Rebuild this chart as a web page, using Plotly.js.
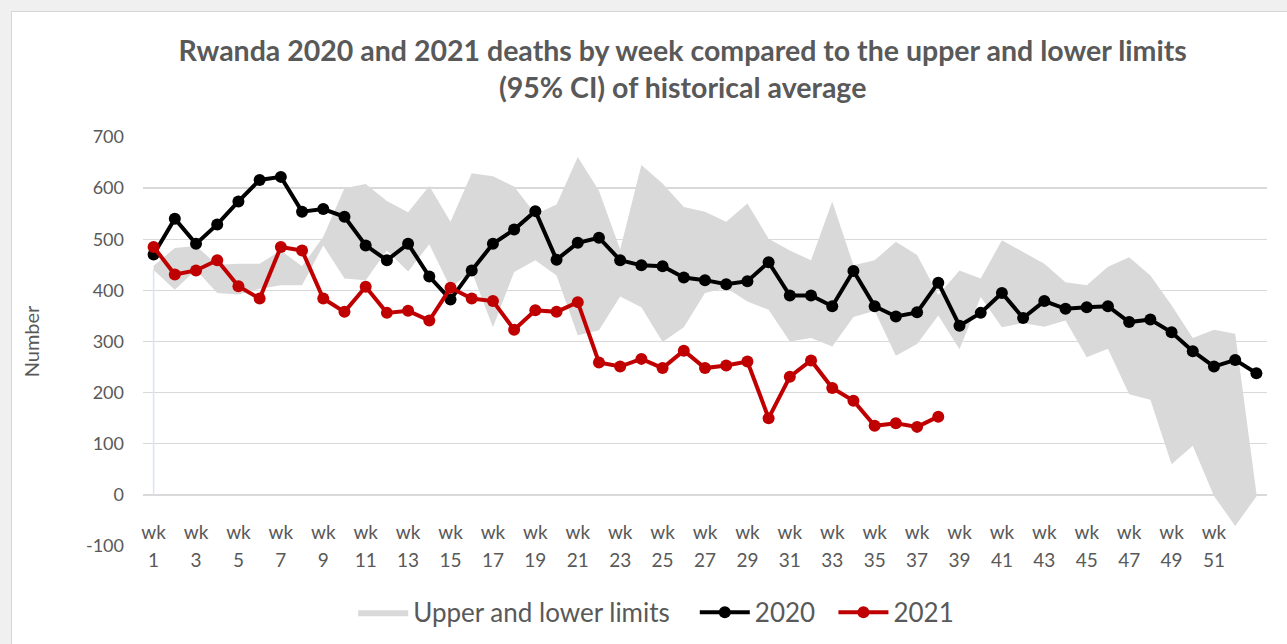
<!DOCTYPE html>
<html><head><meta charset="utf-8">
<script src="https://cdn.plot.ly/plotly-3.0.1.min.js"></script>
<style>
html,body{margin:0;padding:0;background:#f0f0f0;width:1287px;height:644px;overflow:hidden;}
#card{position:absolute;left:11px;top:11px;width:1276px;height:633px;background:#fff;border-left:1px solid #d6d6d6;border-top:1px solid #d6d6d6;overflow:hidden;}
#chart{position:absolute;left:0;top:0;width:1275px;height:645px;}
</style></head><body><div id="card"><div id="chart"></div></div>
<script>
// ---- data ----
var weeks = [1,2,3,4,5,6,7,8,9,10,11,12,13,14,15,16,17,18,19,20,21,22,23,24,25,26,27,28,29,30,31,32,33,34,35,36,37,38,39,40,41,42,43,44,45,46,47,48,49,50,51,52,53];
var tickWeeks = [1,3,5,7,9,11,13,15,17,19,21,23,25,27,29,31,33,35,37,39,41,43,45,47,49,51];
var tickWk = ['wk','wk','wk','wk','wk','wk','wk','wk','wk','wk','wk','wk','wk','wk','wk','wk','wk','wk','wk','wk','wk','wk','wk','wk','wk','wk'];
var tickNum = ['1','3','5','7','9','11','13','15','17','19','21','23','25','27','29','31','33','35','37','39','41','43','45','47','49','51'];
var yTickVals = [-100,0,100,200,300,400,500,600,700];
var yTickText = ['-100','0','100','200','300','400','500','600','700'];
var upperLimit = [448,483,487,450,452,452,478,447,505,600,608,575,553,604,534,629,623,603,549,568,661,595,480,645,609,563,554,534,570,501,478,459,574,449,459,495,469,391,439,423,498,475,452,416,410,446,465,429,371,307,323,315,3];
var lowerLimit = [440,401,440,395,392,403,410,410,488,423,420,478,437,490,405,437,328,436,459,429,312,322,388,367,299,328,395,405,378,362,300,307,290,348,360,272,295,351,285,387,328,336,329,341,269,286,197,186,60,96,-2,-61,-3];
var deaths2020 = [470,540,491,529,574,616,622,554,559,544,488,459,491,427,382,439,491,519,555,460,493,503,459,449,447,425,420,412,418,455,390,390,369,438,369,349,357,415,331,356,395,346,379,364,367,369,338,343,318,281,251,264,238];
var deaths2021 = [485,431,439,459,408,384,485,478,384,358,407,356,360,341,405,384,379,323,361,358,377,259,251,266,248,282,248,253,261,150,231,263,209,184,135,140,133,153];
var titleText = 'Rwanda 2020 and 2021 deaths by week compared to the upper and lower limits<br>(95% CI) of historical average';
var seriesNames = ['Upper and lower limits\u00a0\u00a0\u00a0', '2020\u00a0\u00a0', '2021'];

var FONT = 'Lato, "Open Sans", sans-serif';
var GREY_TXT = '#595959';

var traces = [
  {x: weeks, y: lowerLimit, type:'scatter', mode:'lines', line:{width:0, color:'rgba(0,0,0,0)'}, showlegend:false, hoverinfo:'skip'},
  {x: weeks, y: upperLimit, type:'scatter', mode:'lines', fill:'tonexty', fillcolor:'#d9d9d9', line:{width:0, color:'#d9d9d9'}, name:seriesNames[0]},
  {x: [weeks[0], weeks[0]], y: [0, lowerLimit[0]], type:'scatter', mode:'lines', line:{width:1.5, color:'#dae3f3'}, showlegend:false, hoverinfo:'skip'},
  {x: weeks, y: deaths2020, type:'scatter', mode:'lines+markers', name:seriesNames[1], line:{color:'#000000', width:4}, marker:{color:'#000000', size:12}},
  {x: weeks.slice(0, deaths2021.length), y: deaths2021, type:'scatter', mode:'lines+markers', name:seriesNames[2], line:{color:'#c00000', width:4}, marker:{color:'#c00000', size:12}},
  {x: [], y: [], xaxis:'x2', yaxis:'y', showlegend:false, hoverinfo:'skip'}
];

var layout = {
  width: 1275, height: 645,
  paper_bgcolor:'#ffffff', plot_bgcolor:'#ffffff',
  margin:{l:131, r:20, t:125, b:111},
  font:{family:FONT, color:GREY_TXT},
  title:{text:titleText, font:{family:FONT, size:28.5, color:GREY_TXT, weight:'bold'}, xref:'container', x:0.526, xanchor:'center', yref:'container', y:0.9236, yanchor:'top'},
  showlegend:true,
  legend:{orientation:'h', x:0.187, xanchor:'left', y:-0.105, yanchor:'top', font:{family:FONT, size:26, color:GREY_TXT}, bgcolor:'rgba(0,0,0,0)', itemwidth:50, traceorder:'normal'},
  xaxis:{type:'linear', range:[0.5, 53.5], tickmode:'array', tickvals:tickWeeks, ticktext:tickWk, showgrid:false, zeroline:false, showline:false, ticks:'', tickfont:{family:FONT, size:19, color:GREY_TXT}, ticklabelstandoff:-27, fixedrange:true},
  xaxis2:{type:'linear', overlaying:'x', anchor:'y', side:'bottom', range:[0.5, 53.5], tickmode:'array', tickvals:tickWeeks, ticktext:tickNum, showgrid:false, zeroline:false, showline:false, ticks:'', tickfont:{family:FONT, size:19, color:GREY_TXT}, ticklabelstandoff:1},
  yaxis:{range:[-100, 700], tickmode:'array', tickvals:yTickVals, ticktext:yTickText, gridcolor:'#d9d9d9', gridwidth:1.4, zeroline:false, showline:false, ticks:'', tickfont:{family:FONT, size:18, color:GREY_TXT}, ticklabelstandoff:18,
         title:{text:'Number', font:{family:FONT, size:20, color:GREY_TXT}, standoff:40}}
};

Plotly.newPlot('chart', traces, layout, {displayModeBar:false, staticPlot:true});
</script></body></html>
